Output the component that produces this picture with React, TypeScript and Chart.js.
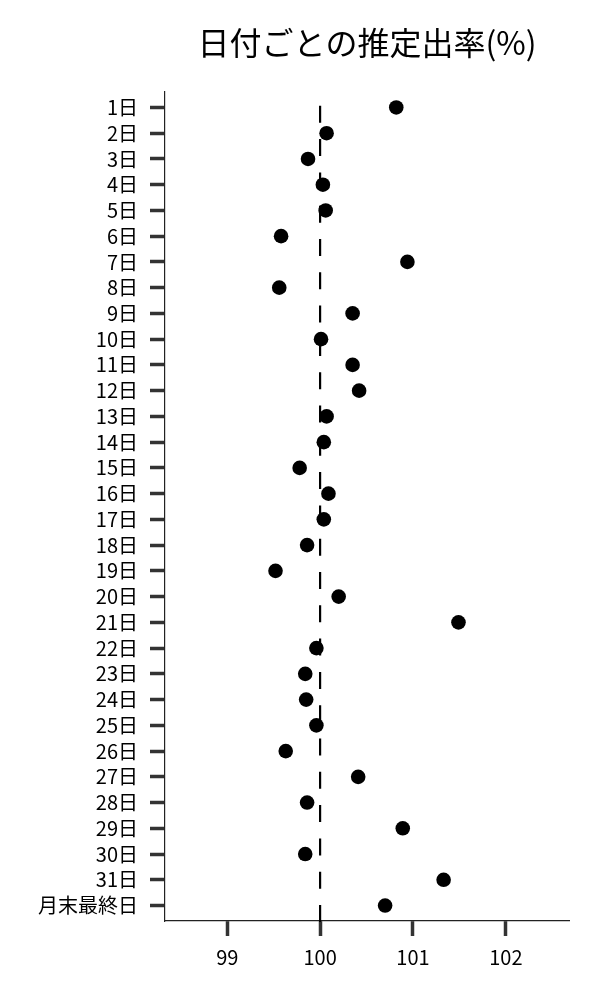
import React, { useEffect, useRef } from 'react';
import { Chart, registerables } from 'chart.js';

Chart.register(...registerables);

const DAYS = [
  '1日', '2日', '3日', '4日', '5日', '6日', '7日', '8日', '9日', '10日',
  '11日', '12日', '13日', '14日', '15日', '16日', '17日', '18日', '19日', '20日',
  '21日', '22日', '23日', '24日', '25日', '26日', '27日', '28日', '29日', '30日',
  '31日', '月末最終日',
];

const RATES = [
  100.82, 100.07, 99.87, 100.03, 100.06, 99.58, 100.94, 99.56, 100.35, 100.01,
  100.35, 100.42, 100.07, 100.04, 99.78, 100.09, 100.04, 99.86, 99.52, 100.2,
  101.49, 99.96, 99.84, 99.85, 99.96, 99.63, 100.41, 99.86, 100.89, 99.84,
  101.33, 100.7,
];

const X_TICKS = [99, 100, 101, 102];
const REFERENCE = 100;
const TITLE = '日付ごとの推定出率(%)';
const FONT = '"Noto Sans CJK JP", "Noto Sans", sans-serif';

const refLine = {
  id: 'refLine',
  beforeDatasetsDraw(chart: any) {
    const { ctx, chartArea, scales } = chart;
    const x = scales.x.getPixelForValue(REFERENCE);
    ctx.save();
    ctx.beginPath();
    ctx.setLineDash([17, 16.3]);
    ctx.strokeStyle = '#000';
    ctx.lineWidth = 2.2;
    ctx.moveTo(x, chartArea.bottom + 1);
    ctx.lineTo(x, chartArea.top);
    ctx.stroke();
    ctx.restore();
  },
};

const App: React.FC = () => {
  const chartRef = useRef<HTMLCanvasElement | null>(null);

  useEffect(() => {
    document.body.style.margin = '0';
    if (!chartRef.current) return;
    const ctx = chartRef.current.getContext('2d');
    if (!ctx) return;

    Chart.defaults.font.family = FONT;
    Chart.defaults.color = '#000';

    const myChart = new Chart(ctx, {
      type: 'scatter',
      data: {
        datasets: [
          {
            data: RATES.map((v, i) => ({ x: v, y: i })),
            backgroundColor: '#000',
            borderWidth: 0,
            pointRadius: 7.3,
            pointHoverRadius: 7.3,
          },
        ],
      },
      options: {
        responsive: true,
        maintainAspectRatio: false,
        animation: false,
        layout: { padding: { left: 0, right: 31, top: 0, bottom: 0 } },
        plugins: {
          legend: { display: false },
          tooltip: { enabled: false },
          title: {
            display: true,
            text: TITLE,
            fullSize: false,
            color: '#000',
            font: { size: 32, weight: 'normal', family: FONT },
            padding: { top: 24, bottom: 29.6 },
          },
        },
        scales: {
          x: {
            type: 'linear',
            min: 98.33,
            max: 102.68,
            afterBuildTicks: (scale: any) => {
              scale.ticks = X_TICKS.map((v) => ({ value: v }));
            },
            afterFit: (scale: any) => {
              scale.height = 79;
            },
            grid: {
              drawOnChartArea: false,
              drawTicks: true,
              tickLength: 15,
              tickWidth: 3.5,
              tickColor: '#333',
            },
            border: { display: true, color: '#222', width: 1.2 },
            ticks: {
              padding: 9,
              color: '#000',
              font: { size: 20, family: FONT },
              callback: (v: any) => String(v),
            },
          },
          y: {
            type: 'linear',
            reverse: true,
            min: -0.6,
            max: DAYS.length - 0.4,
            afterBuildTicks: (scale: any) => {
              scale.ticks = DAYS.map((_, i) => ({ value: i }));
            },
            afterFit: (scale: any) => {
              scale.width = 165;
            },
            grid: {
              drawOnChartArea: false,
              drawTicks: true,
              tickLength: 15,
              tickWidth: 3.5,
              tickColor: '#333',
            },
            border: { display: true, color: '#222', width: 1.2 },
            ticks: {
              padding: 12,
              autoSkip: false,
              color: '#000',
              font: { size: 20, family: FONT },
              callback: (v: any) => DAYS[Math.round(Number(v))] ?? '',
            },
          },
        },
      },
      plugins: [refLine],
    });

    return () => {
      myChart.destroy();
    };
  }, []);

  return (
    <div style={{ position: 'relative', width: 600, height: 1000 }}>
      <canvas ref={chartRef} />
    </div>
  );
};

export default App;
